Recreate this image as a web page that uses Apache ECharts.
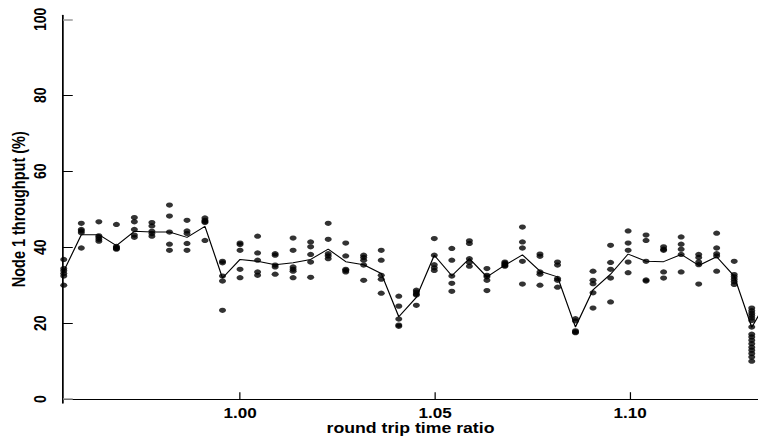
<!DOCTYPE html>
<html>
<head>
<meta charset="utf-8">
<script src="https://cdn.jsdelivr.net/npm/echarts@6/dist/echarts.min.js"></script>
<style>
  html, body { margin: 0; padding: 0; background: #fff; overflow: hidden; }
  /* the chart is laid out on a narrower canvas and widened to 758px */
  #chart { width: 621px; height: 438px; transform: scaleX(1.22061); transform-origin: 0 0; }
</style>
</head>
<body>
<div id="chart"></div>
<script>
// round trip time ratio of each run group
const rttRatio = [
  0.9548, 0.9593, 0.9638, 0.9683, 0.9729, 0.9774, 0.9819, 0.9864, 0.9910, 0.9955,
  1.0000, 1.0045, 1.0090, 1.0136, 1.0181, 1.0226, 1.0271, 1.0317, 1.0362, 1.0407,
  1.0452, 1.0498, 1.0543, 1.0588, 1.0633, 1.0679, 1.0724, 1.0769, 1.0814, 1.0860,
  1.0905, 1.0950, 1.0995, 1.1041, 1.1086, 1.1131, 1.1176, 1.1222, 1.1267, 1.1312,
  1.1357
];

// node 1 throughput (%) of the individual runs at each ratio
const runThroughput = [
  [36.8, 34.4, 33.8, 33.1, 32.4, 30.0],
  [46.3, 44.7, 44.3, 43.8, 39.8],
  [46.7, 43.0, 42.6, 42.1, 41.6],
  [46.0, 40.2, 39.9, 39.7, 39.5],
  [47.8, 46.7, 44.7, 43.2, 42.6],
  [46.5, 45.6, 44.2, 43.6, 42.9],
  [51.1, 48.2, 44.0, 40.8, 39.2],
  [47.1, 44.3, 43.6, 41.0, 39.2],
  [47.7, 47.1, 46.8, 46.5, 41.8],
  [36.3, 35.9, 32.4, 31.1, 23.4],
  [41.1, 40.7, 39.2, 34.2, 32.0],
  [42.9, 38.5, 36.6, 33.5, 32.6],
  [38.3, 37.9, 35.3, 34.8, 32.9],
  [42.4, 39.2, 34.8, 34.2, 33.7, 32.0],
  [41.4, 40.1, 38.1, 36.1, 32.1],
  [46.3, 42.1, 38.3, 37.7, 37.0],
  [41.1, 37.7, 34.2, 33.9, 33.5],
  [37.9, 37.3, 36.6, 35.3, 31.3],
  [39.2, 36.6, 32.6, 31.6, 27.9],
  [27.1, 24.5, 21.1, 19.5, 19.2],
  [28.7, 28.2, 27.7, 27.4, 24.7],
  [42.3, 37.9, 35.4, 34.6, 33.9],
  [39.7, 36.6, 32.4, 30.5, 28.4],
  [41.7, 41.0, 37.0, 36.0, 35.0],
  [34.4, 32.6, 32.2, 31.3, 28.6],
  [36.1, 35.8, 35.5, 35.2, 35.0],
  [45.3, 41.4, 39.8, 36.3, 30.3],
  [38.2, 37.6, 33.5, 32.9, 30.0],
  [36.1, 35.3, 31.8, 31.3, 29.5],
  [21.2, 20.6, 18.0, 17.7, 17.5],
  [33.7, 31.3, 30.4, 28.0, 24.0],
  [40.5, 36.0, 34.2, 31.9, 25.6],
  [44.3, 41.1, 39.2, 36.1, 33.3],
  [43.2, 41.8, 36.3, 31.4, 31.1],
  [40.1, 39.5, 39.2, 33.5, 31.9],
  [42.7, 40.8, 39.5, 38.1, 33.5],
  [38.1, 37.3, 36.1, 35.4, 30.3],
  [43.7, 39.8, 38.3, 37.7, 33.7],
  [36.3, 32.8, 32.2, 31.6, 30.9, 30.2],
  [24.0, 23.3, 22.6, 22.0, 21.4, 20.7, 19.0, 17.1, 16.4, 15.5, 14.6, 13.7, 12.9, 12.0, 11.1, 10.0],
  []
];

// average throughput per ratio (the connecting line)
const meanThroughput = [
  33.7, 43.3, 43.3, 40.4, 44.2, 44.0, 44.0, 42.6, 45.5, 31.9,
  36.8, 36.3, 35.4, 35.9, 36.8, 39.5, 36.2, 35.4, 33.1, 21.7,
  26.8, 37.9, 32.5, 37.0, 32.2, 35.3, 38.0, 33.7, 32.2, 19.0,
  28.8, 32.9, 38.2, 36.3, 36.2, 38.1, 35.2, 37.5, 32.4, 18.9,
  27.0
];

const xTicks = [1.00, 1.05, 1.10];
const yTicks = [0, 20, 40, 60, 80, 100];

const runPoints = [];
rttRatio.forEach((r, i) => runThroughput[i].forEach(v => runPoints.push([r, v])));
const meanPoints = rttRatio.map((r, i) => [r, meanThroughput[i]]);

const font = 'Liberation Sans, Arial, Helvetica, sans-serif';
const black = '#000';

const chart = echarts.init(document.getElementById('chart'), null, { renderer: 'svg' });
chart.setOption({
  animation: false,
  backgroundColor: '#fff',
  grid: { left: 51.6, right: 0, top: 15.5, bottom: 35, outerBoundsMode: 'none', containLabel: false },
  xAxis: [
    {
      type: 'value', position: 'bottom',
      min: 0.9546, max: 1.1328,
      axisLine: { show: true, lineStyle: { color: black, width: 1.2 } },
      axisTick: { show: true, inside: true, length: 7, customValues: xTicks, lineStyle: { color: black, width: 1 } },
      axisLabel: {
        customValues: xTicks, margin: 4, lineHeight: 12,
        formatter: v => v.toFixed(2),
        color: black, fontFamily: font, fontWeight: 'bold', fontSize: 14
      },
      splitLine: { show: false },
      name: 'round trip time ratio', nameLocation: 'middle', nameGap: 18, nameMoveOverlap: false,
      nameTextStyle: { color: black, fontFamily: font, fontWeight: 'bold', fontSize: 14.5, lineHeight: 14 }
    },
    {
      type: 'value', position: 'top',
      min: 0.9546, max: 1.1328,
      axisLine: { show: true, lineStyle: { color: black, width: 1.2 } },
      axisTick: { show: false }, axisLabel: { show: false }, splitLine: { show: false }
    }
  ],
  yAxis: [
    {
      type: 'value', position: 'left',
      min: -1, max: 101,
      axisLine: { show: true, lineStyle: { color: black, width: 1.4 } },
      axisTick: { show: true, inside: true, length: 8, customValues: [20, 40, 60, 80], lineStyle: { color: black, width: 1 } },
      axisLabel: {
        customValues: yTicks, rotate: 90, margin: 12,
        color: black, fontFamily: font, fontWeight: 'bold', fontSize: 14
      },
      splitLine: { show: false },
      name: 'Node 1 throughput (%)', nameLocation: 'middle', nameGap: 29, nameRotate: 90, nameMoveOverlap: false,
      nameTextStyle: { color: black, fontFamily: font, fontWeight: 'bold', fontSize: 14.5 }
    },
    {
      type: 'value', position: 'left',
      min: -1, max: 101,
      axisLine: { show: false },
      axisTick: { show: true, inside: true, length: 8, customValues: [0, 100], lineStyle: { color: '#9a9a9a', width: 1.5 } },
      axisLabel: { show: false }, splitLine: { show: false }
    }
  ],
  series: [
    {
      type: 'line', data: meanPoints, xAxisIndex: 0, yAxisIndex: 0,
      symbol: 'none', clip: true,
      lineStyle: { color: black, width: 1 },
      silent: true
    },
    {
      type: 'scatter', data: runPoints, xAxisIndex: 0, yAxisIndex: 0,
      symbol: 'circle', symbolSize: [5.8, 5.2], clip: false,
      itemStyle: { color: black },
      silent: true
    }
  ]
});
</script>
</body>
</html>
